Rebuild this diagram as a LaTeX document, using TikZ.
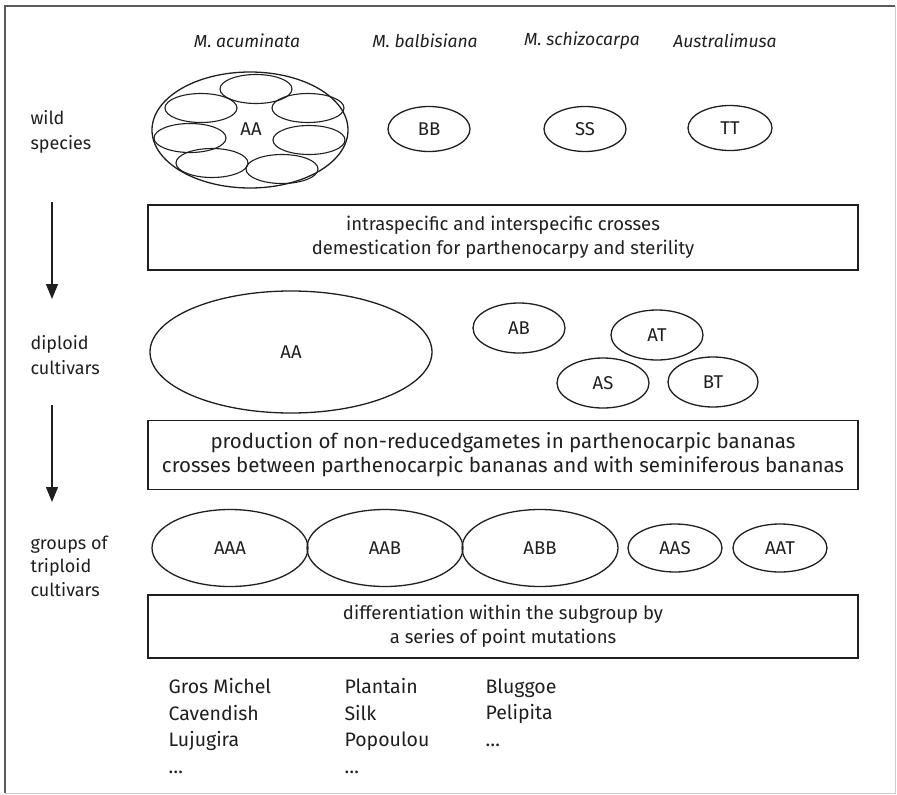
\documentclass[tikz,border=0pt]{standalone}
\usepackage{fontspec}
\setmainfont{Fira Sans}
\usetikzlibrary{shapes.geometric,arrows.meta}
\definecolor{ink}{gray}{0.12}
\begin{document}
\begin{tikzpicture}[x=1pt,y=-1pt,
  every node/.style={text=ink},
  txt/.style={font=\fontsize{18.5}{24}\selectfont},
  lbl/.style={align=left, anchor=west, font=\fontsize{18}{25.5}\selectfont},
  spec/.style={font=\itshape\fontsize{17.5}{19}\selectfont},
  ell/.style={draw=ink, ellipse, line width=1.3pt, inner sep=0pt, txt},
  sub/.style={draw=ink, ellipse, line width=1.1pt, inner sep=0pt, minimum width=72pt, minimum height=29pt},
  stage/.style={draw=ink, line width=1.4pt, minimum width=710pt, inner sep=0pt, align=center, txt},
  flow/.style={draw=ink, line width=1.3pt, -{Triangle[width=12pt,length=15pt]}},
  list/.style={align=left, anchor=north west, font=\fontsize{19.5}{26.5}\selectfont}
]
\useasboundingbox (0,0) rectangle (897,795);
% frame
\draw[line width=1.6pt, draw=black!65] (5,793) -- (5,6) -- (895,6);
\draw[line width=0.8pt, draw=black!20] (895,6) -- (895,793) -- (5,793);

% species labels
\node[spec] (lacu) at (247,41) {M. acuminata};
\node[spec] (lbal) at (425,41) {M. balbisiana};
\node[spec] (lsch) at (582,41) {M. schizocarpa};
\node[spec] (laus) at (725,41) {Australimusa};

% wild species
\node[ell, minimum width=196pt, minimum height=116pt] (wAA) at (250,130) {};
\node[sub] (s1) at (256,89) {};
\node[sub] (s2) at (201,108) {};
\node[sub] (s3) at (308,108) {};
\node[sub] (s4) at (190,138) {};
\node[sub] (s5) at (309,140) {};
\node[sub] (s6) at (212,163) {};
\node[sub] (s7) at (282,169) {};
\node[txt] (wAAt) at (251,129) {AA};
\node[ell, minimum width=82pt, minimum height=45pt] (wBB) at (429,129) {BB};
\node[ell, minimum width=82pt, minimum height=45pt] (wSS) at (585,129) {SS};
\node[ell, minimum width=84pt, minimum height=45pt] (wTT) at (730,128) {TT};

% left labels
\node[lbl] (lwild) at (27,132) {wild\\species};
\node[lbl] (ldip) at (27,355) {diploid\\cultivars};
\node[lbl, font=\fontsize{18}{23.5}\selectfont] (ltri) at (27,566) {groups of\\triploid\\cultivars};

% arrows
\coordinate (a1s) at (52,202);
\coordinate (a1e) at (52,299);
\coordinate (a2s) at (52,405);
\coordinate (a2e) at (52,502);
\draw[flow] (a1s) -- (a1e);
\draw[flow] (a2s) -- (a2e);

% stage boxes
\node[stage, minimum height=65pt] (b1) at (503,237.5) {intraspecific and interspecific crosses\\demestication for parthenocarpy and sterility};
\node[stage, minimum height=69pt, font=\fontsize{20.5}{24}\selectfont] (b2) at (503,455) {production of non-reducedgametes in parthenocarpic bananas\\crosses between parthenocarpic bananas and with seminiferous bananas};
\node[stage, minimum height=63pt] (b3) at (503,626.5) {differentiation within the subgroup by\\a series of point mutations};

% diploid cultivars
\node[ell, minimum width=282pt, minimum height=122pt] (dAA) at (291,352) {AA};
\node[ell, minimum width=92pt, minimum height=50pt] (dAB) at (519,328) {AB};
\node[ell, minimum width=92pt, minimum height=50pt] (dAT) at (657,335) {AT};
\node[ell, minimum width=92pt, minimum height=50pt] (dAS) at (603,383) {AS};
\node[ell, minimum width=90pt, minimum height=50pt] (dBT) at (713,382) {BT};

% triploid cultivars
\node[ell, minimum width=156pt, minimum height=77pt] (tAAA) at (230,548) {AAA};
\node[ell, minimum width=156pt, minimum height=77pt] (tAAB) at (385,548) {AAB};
\node[ell, minimum width=156pt, minimum height=77pt] (tABB) at (540,548) {ABB};
\node[ell, minimum width=94pt, minimum height=48pt] (tAAS) at (675,548) {AAS};
\node[ell, minimum width=94pt, minimum height=48pt] (tAAT) at (780,548) {AAT};

% cultivar lists
\node[list] (c1) at (165,675) {Gros Michel\\Cavendish\\Lujugira\\…};
\node[list] (c2) at (341,675) {Plantain\\Silk\\Popoulou\\…};
\node[list] (c3) at (482,675) {Bluggoe\\Pelipita\\…};
\end{tikzpicture}
\end{document}
